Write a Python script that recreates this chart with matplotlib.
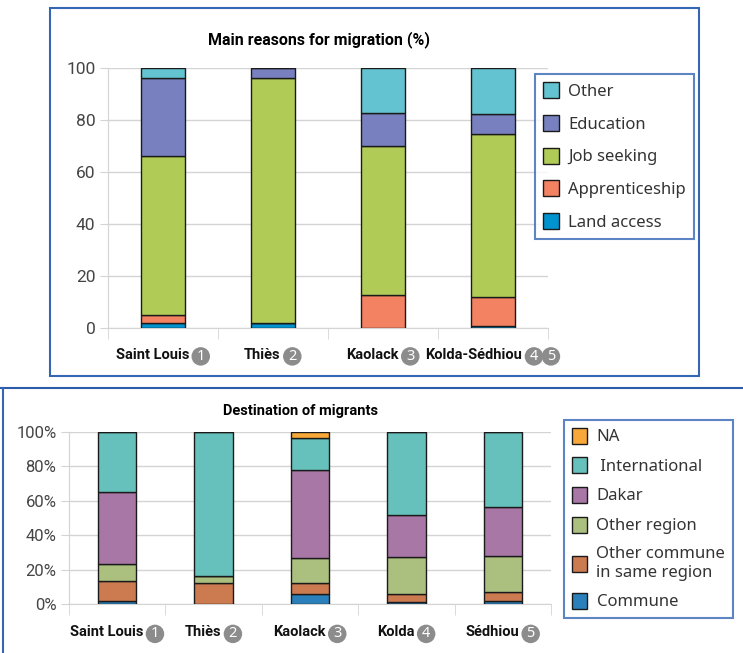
import numpy as np
import matplotlib
matplotlib.use("Agg")
import matplotlib.pyplot as plt
from matplotlib.patches import Rectangle
from matplotlib.lines import Line2D

# --- data: main reasons for migration (%) ---
reason_regions = ["Saint Louis", "Thiès", "Kaolack", "Kolda-Sédhiou"]
reason_marks = [["1"], ["2"], ["3"], ["4", "5"]]
reason_names = ["Land access", "Apprenticeship", "Job seeking", "Education", "Other"]
land_access = [2.0, 2.0, 0.0, 0.8]
apprenticeship = [3.0, 0.0, 12.7, 11.0]
job_seeking = [61.0, 94.0, 57.2, 63.0]
education = [30.0, 4.0, 12.8, 7.5]
other_reason = [4.0, 0.0, 17.3, 17.7]
reason_colors = ["#0093d0", "#f28262", "#b0cb56", "#7880bf", "#63c3d0"]

# --- data: destination of migrants (%) ---
dest_regions = ["Saint Louis", "Thiès", "Kaolack", "Kolda", "Sédhiou"]
dest_marks = [["1"], ["2"], ["3"], ["4"], ["5"]]
dest_names = ["Commune", "Other commune\nin same region", "Other region",
              "Dakar", " International", "NA"]
commune = [1.6, 0.0, 5.8, 1.2, 1.8]
other_commune = [12.0, 12.3, 6.5, 4.6, 5.4]
other_region = [9.8, 4.1, 14.2, 21.3, 20.9]
dakar = [41.7, 0.0, 51.5, 24.4, 28.4]
international = [34.9, 83.6, 18.5, 48.5, 43.5]
na = [0.0, 0.0, 3.5, 0.0, 0.0]
dest_colors = ["#2b7fbb", "#cc7a50", "#abc07f", "#a877a6", "#66c1bc", "#f7a839"]

NARROW = ["Roboto", "DejaVu Sans"]
LEG = ["Noto Sans", "DejaVu Sans"]
BLUE = "#3466b4"

W, H = 743, 653
fig = plt.figure(figsize=(W / 100, H / 100), dpi=100)


def px_axes(x0, y0, x1, y1):
    return fig.add_axes([x0 / W, 1 - y1 / H, (x1 - x0) / W, (y1 - y0) / H])


def stacked(ax, regions, series, colors, names, ylabels, ysize):
    x = np.arange(len(regions))
    bottom = np.zeros(len(regions))
    for vals, col, name in zip(series, colors, names):
        vals = np.array(vals)
        ax.bar(x, vals, 0.4, bottom=bottom, color=col, edgecolor="#1a1a1a",
               linewidth=1.0, label=name, zorder=3)
        bottom += vals
    ax.set_xlim(-0.5, len(regions) - 0.5)
    ax.set_ylim(0, 100)
    ax.set_yticks(np.arange(0, 101, 20))
    ax.set_yticklabels(ylabels, family=NARROW, fontsize=ysize)
    ax.grid(axis="y", color="#d4d4d4", linewidth=1, zorder=0)
    for s in ["top", "right"]:
        ax.spines[s].set_visible(False)
    ax.spines["left"].set_color("#d4d4d4")
    ax.spines["bottom"].set_color("#d4d4d4")
    ax.set_xticks(x)
    ax.set_xticklabels([])
    ax.set_xticks(np.arange(-0.5, len(regions)), minor=True)
    ax.tick_params(axis="x", which="major", length=0)
    ax.tick_params(axis="x", which="minor", length=8, color="#d4d4d4")
    ax.tick_params(axis="y", length=6, color="#d4d4d4", labelcolor="#454545", pad=3)


def add_labels(ax, regions, marks, drop, size):
    # region name followed by grey numbered circles, the group centred on the bar
    diam = 17.0
    for i, (name, ms) in enumerate(zip(regions, marks)):
        shift = -(4 + diam * len(ms)) / 2 * 0.72
        lab = ax.annotate(name, xy=(i, 0), xycoords=("data", "axes fraction"),
                          xytext=(shift, -drop * 0.72), textcoords="offset points",
                          ha="center", va="center", color="#111111",
                          family=NARROW, fontweight="bold", fontsize=size)
        for k, m in enumerate(ms):
            ax.annotate(m, xy=(1, 0.5), xycoords=lab,
                        xytext=((3 + diam / 2 + k * diam) * 0.72, -1),
                        textcoords="offset points",
                        ha="center", va="center", color="white", fontsize=10.5,
                        family=LEG,
                        bbox=dict(boxstyle="circle,pad=0.12", fc="#8c8c8c",
                                  ec="none"))


def style_legend(leg):
    leg.get_frame().set_edgecolor(BLUE)
    leg.get_frame().set_linewidth(1.5)
    for t in leg.get_texts():
        t.set_color("#333333")


# ---------- top chart ----------
ax1 = px_axes(108, 68, 548, 328)
stacked(ax1, reason_regions,
        [land_access, apprenticeship, job_seeking, education, other_reason],
        reason_colors, reason_names, [str(v) for v in range(0, 101, 20)], 12.5)
ax1.set_title("Main reasons for migration (%)", family=NARROW, fontweight="bold",
              fontsize=11.5, pad=17, x=0.48)
h, l = ax1.get_legend_handles_labels()
leg1 = ax1.legend(h[::-1], l[::-1], loc="upper left",
                  bbox_to_anchor=(535 / W, 1 - 74 / H), bbox_transform=fig.transFigure,
                  frameon=True, fancybox=False, prop={"family": LEG, "size": 12},
                  handlelength=0.95, handleheight=1.1, handletextpad=0.55,
                  labelspacing=0.9, borderpad=0.5, borderaxespad=0)
style_legend(leg1)
add_labels(ax1, reason_regions, reason_marks, 27, 10.5)

# ---------- bottom chart ----------
ax2 = px_axes(69, 432, 551, 604)
stacked(ax2, dest_regions,
        [commune, other_commune, other_region, dakar, international, na],
        dest_colors, dest_names, [f"{v}%" for v in range(0, 101, 20)], 12)
ax2.set_title("Destination of migrants", family=NARROW, fontweight="bold",
              fontsize=10.5, pad=12, x=0.48)
h, l = ax2.get_legend_handles_labels()
leg2 = ax2.legend(h[::-1], l[::-1], loc="upper left",
                  bbox_to_anchor=(564 / W, 1 - 420 / H), bbox_transform=fig.transFigure,
                  frameon=True, fancybox=False, prop={"family": LEG, "size": 12},
                  handlelength=0.95, handleheight=1.1, handletextpad=0.55,
                  labelspacing=0.72, borderpad=0.45, borderaxespad=0)
style_legend(leg2)
add_labels(ax2, dest_regions, dest_marks, 28.5, 10.5)

# ---------- panel borders ----------
fig.patches.append(Rectangle((50 / W, 1 - 376 / H), (699 - 50) / W, (376 - 8) / H,
                             transform=fig.transFigure, fill=False,
                             edgecolor=BLUE, linewidth=1.5))
fig.lines.append(Line2D([0, 1], [1 - 387.5 / H] * 2, transform=fig.transFigure,
                        color="#2a5caa", linewidth=1.5))
fig.lines.append(Line2D([3 / W] * 2, [0, 1 - 387.5 / H], transform=fig.transFigure,
                        color=BLUE, linewidth=1.5))

fig.savefig("out.png", dpi=100)
